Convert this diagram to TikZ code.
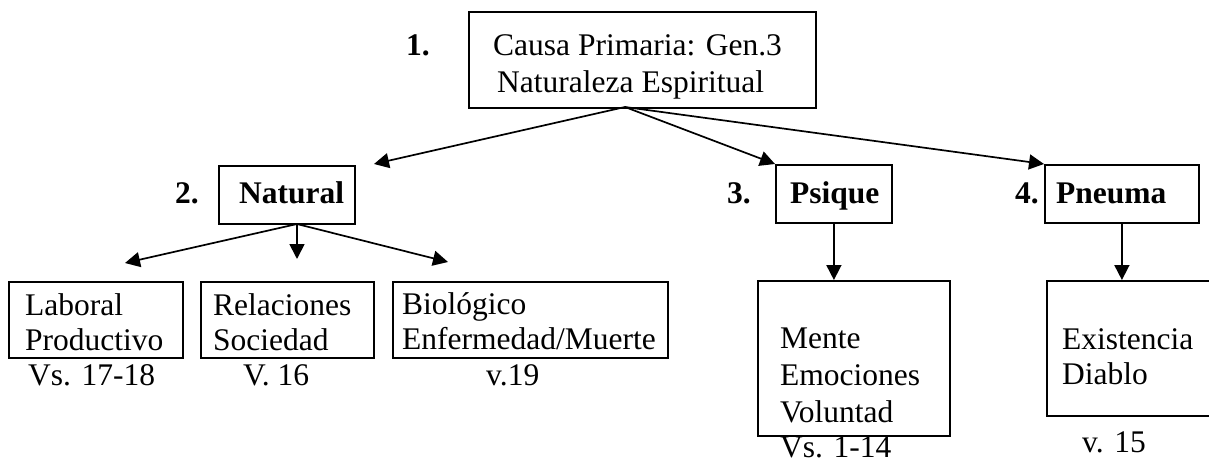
\documentclass[tikz,border=0pt]{standalone}
\usepackage{fontspec}
\setmainfont{Liberation Serif}
\usetikzlibrary{arrows.meta}
\begin{document}
\begin{tikzpicture}[x=1pt,y=-1pt,
  box/.style={draw, line width=1.8pt, inner sep=0pt, anchor=north west},
  txt/.style={anchor=base west, inner sep=0pt, font=\fontsize{31.5}{37}\selectfont},
  lbl/.style={anchor=base west, inner sep=0pt, font=\fontsize{31.5}{37}\selectfont\bfseries},
  arr/.style={-{Triangle[length=15pt,width=15pt]}, line width=1.7pt}]
\useasboundingbox (0,0) rectangle (1209,464);
% boxes
\node[box, minimum width=347pt, minimum height=96pt] (top) at (468,11) {};
\node[box, minimum width=136pt, minimum height=58pt] (natural) at (218,165) {};
\node[box, minimum width=116pt, minimum height=58pt] (psique) at (775,164) {};
\node[box, minimum width=154pt, minimum height=58pt] (pneuma) at (1044,164) {};
\node[box, minimum width=174pt, minimum height=76pt] (laboral) at (8,281) {};
\node[box, minimum width=173pt, minimum height=76pt] (relaciones) at (200,281) {};
\node[box, minimum width=275pt, minimum height=76pt] (biologico) at (392,281) {};
\node[box, minimum width=192pt, minimum height=155pt] (mente) at (757,280) {};
\node[box, minimum width=170pt, minimum height=135pt] (existencia) at (1046,280) {};
% texts
\node[lbl] (n1) at (406,55) {1.};
\node[txt] (t1a) at (493,55) {Causa Primaria: Gen.3};
\node[txt] (t1b) at (497,92) {Naturaleza Espiritual};
\node[lbl] (n2) at (175,203) {2.};
\node[lbl] (t2) at (239,203) {Natural};
\node[lbl] (n3) at (727,203) {3.};
\node[lbl] (t3) at (790,203) {Psique};
\node[lbl] (n4) at (1015,203) {4.};
\node[lbl] (t4) at (1056,203) {Pneuma};
\node[txt] (la) at (25,315) {Laboral};
\node[txt] (lb) at (25,350) {Productivo};
\node[txt] (ra) at (213,315) {Relaciones};
\node[txt] (rb) at (213,350) {Sociedad};
\node[txt] (ba) at (402,314) {Biológico};
\node[txt] (bb) at (402,349) {Enfermedad/Muerte};
\node[txt] (lv) at (28,385) {Vs. 17-18};
\node[txt] (rv) at (243,385) {V. 16};
\node[txt] (bv) at (486,385) {v.19};
\node[txt] (ma) at (780,348) {Mente};
\node[txt] (mb) at (780,385) {Emociones};
\node[txt] (mc) at (780,422) {Voluntad};
\node[txt] (mv) at (780,457) {Vs. 1-14};
\node[txt] (ea) at (1062,349) {Existencia};
\node[txt] (eb) at (1062,384) {Diablo};
\node[txt] (ev) at (1082,452) {v. 15};
% connector points
\coordinate (topout) at (625,107);
\coordinate (natin) at (374,164);
\coordinate (natout) at (297,224);
\coordinate (labin) at (125,263);
\coordinate (relin) at (297,259);
\coordinate (bioin) at (448,262);
% connectors
\draw[arr] (topout) -- (natin);
\draw[arr] (topout) -- (psique.north west);
\draw[arr] (topout) -- (pneuma.north west);
\draw[arr] (natout) -- (labin);
\draw[arr] (natout) -- (relin);
\draw[arr] (natout) -- (bioin);
\draw[arr] (psique.south) -- (psique.south |- mente.north);
\draw[arr] (pneuma.south) -- (pneuma.south |- existencia.north);
\end{tikzpicture}
\end{document}
